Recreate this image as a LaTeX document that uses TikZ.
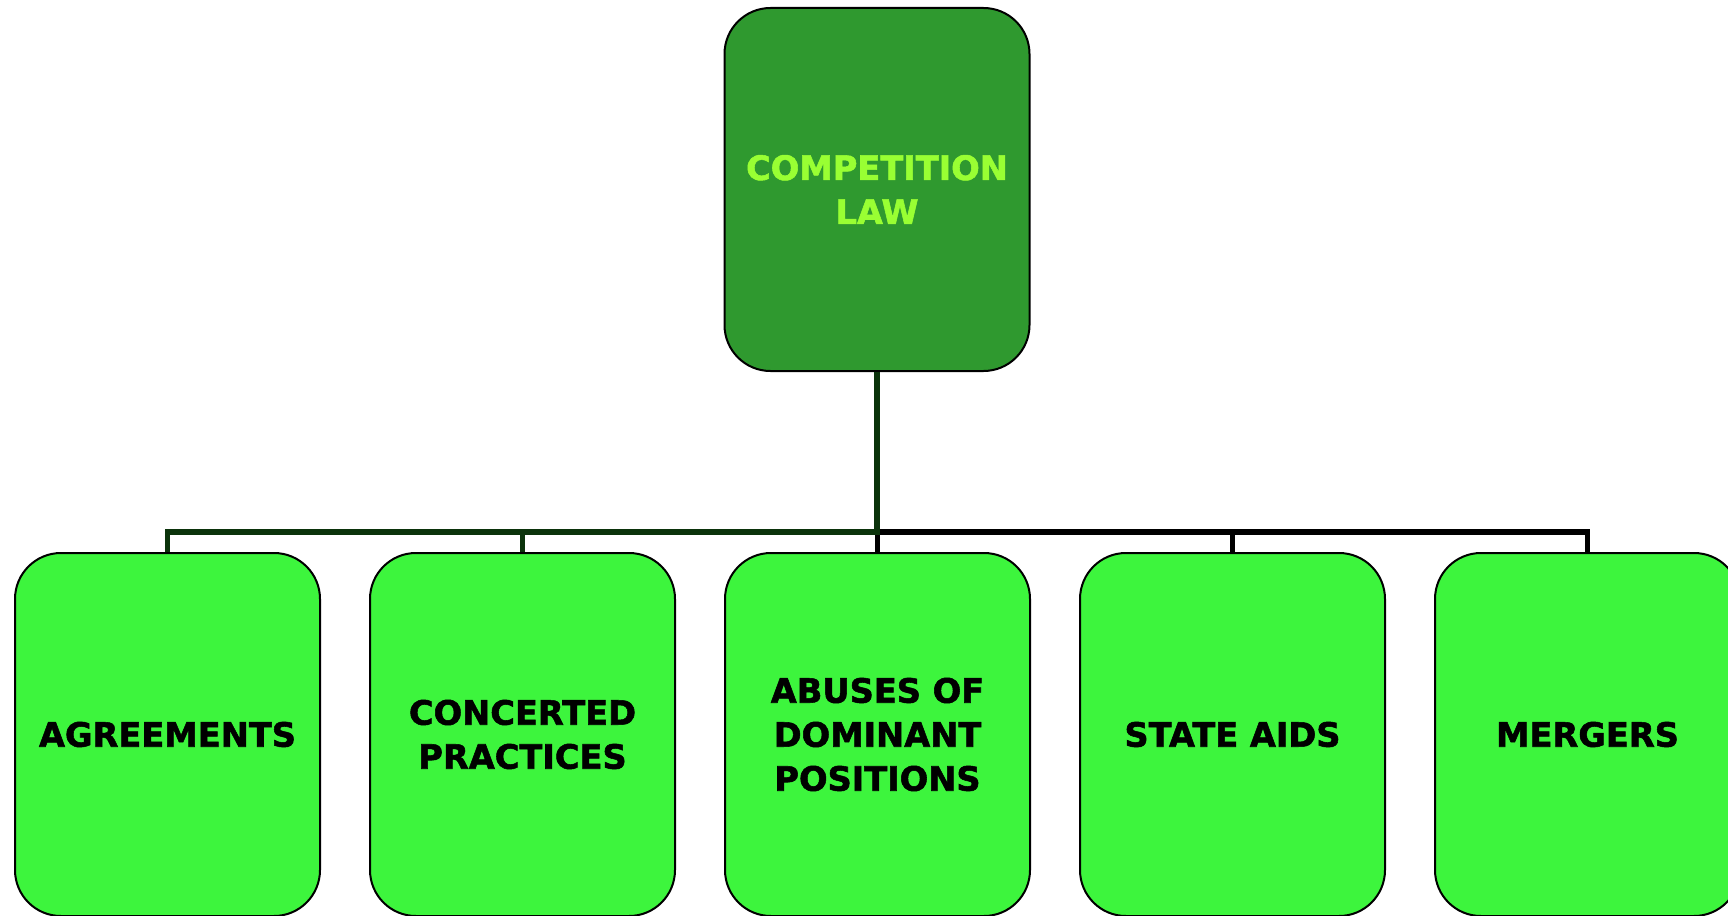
\documentclass[tikz,border=0pt]{standalone}
\usepackage{fontspec}
\setmainfont{DejaVu Sans}[BoldFeatures={FakeBold=1.6}]
\definecolor{topgreen}{HTML}{2F992F}
\definecolor{toptext}{HTML}{99FF33}
\definecolor{leafgreen}{HTML}{3DF53D}
\definecolor{conngreen}{HTML}{0B330B}
\begin{document}
\begin{tikzpicture}[x=0.5pt,y=-0.5pt,
  box/.style={draw=black, line width=1pt, rounded corners=23pt,
    minimum width=152.5pt, minimum height=181.5pt, align=center,
    font=\bfseries\fontsize{16.8}{22}\selectfont, inner sep=0pt},
  topbox/.style={box, fill=topgreen, text=toptext},
  leaf/.style={box, fill=leafgreen, text=black},
  conn/.style={line width=2.9pt}]
\useasboundingbox (0,0) rectangle (1728,915);
\node[topbox] (top) at (877,189.5) {COMPETITION\\LAW};
\node[leaf] (a) at (167.5,734.5) {AGREEMENTS};
\node[leaf] (b) at (522.5,734.5) {CONCERTED\\PRACTICES};
\node[leaf] (c) at (877.5,734.5) {ABUSES OF\\DOMINANT\\POSITIONS};
\node[leaf] (d) at (1232.5,734.5) {STATE AIDS};
\node[leaf] (e) at (1587.5,734.5) {MERGERS};
\coordinate (ra) at (167.5,532);
\coordinate (rb) at (522.5,532);
\coordinate (rc) at (877.5,532);
\coordinate (rd) at (1232.5,532);
\coordinate (re) at (1587.5,532);
\draw[conn, black] (top.south) |- (rc) -- (c.north);
\draw[conn, black] (top.south) |- (rd) -- (d.north);
\draw[conn, black] (top.south) |- (re) -- (e.north);
\draw[conn, conngreen] (top.south) |- (rb) -- (b.north);
\draw[conn, conngreen] (top.south) |- (ra) -- (a.north);
\end{tikzpicture}
\end{document}
